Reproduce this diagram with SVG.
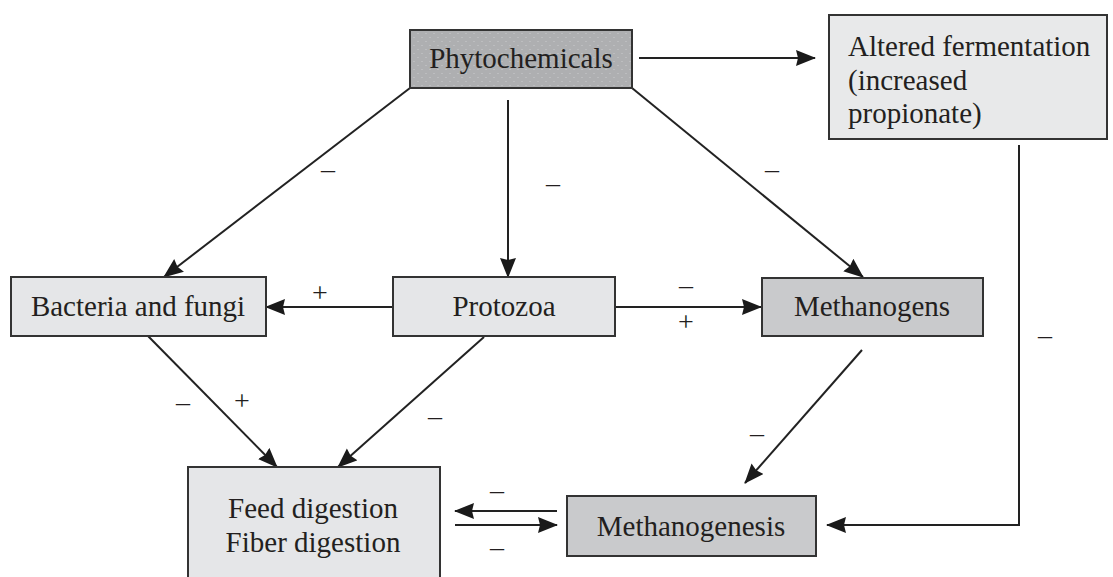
<svg xmlns="http://www.w3.org/2000/svg" width="1113" height="577" viewBox="0 0 1113 577">
<style>
.box{stroke:#333;stroke-width:2}
.light{fill:#e5e6e8}
.mid{fill:#c9cacc}
.t{font-family:"Liberation Serif","Times New Roman",serif;font-size:29px;fill:#231f20}
.s{font-family:"Liberation Serif","Times New Roman",serif;font-size:28px;fill:#231f20;text-anchor:middle}
.c{stroke:#222;stroke-width:2;fill:none}
</style>
<defs>
<marker id="ah" markerUnits="userSpaceOnUse" markerWidth="22" markerHeight="18" refX="19" refY="8" orient="auto">
<path d="M0,0 L20,8 L0,16 L2,8 Z" fill="#1a1a1a"/>
</marker>
<pattern id="dots" width="8" height="8" patternUnits="userSpaceOnUse">
<rect width="8" height="8" fill="#aeafb1"/>
<rect x="1" y="1" width="2" height="1" fill="#bcbdbf"/>
<rect x="5" y="5" width="2" height="1" fill="#bcbdbf"/>
</pattern>
</defs>
<g id="connectors">
<line class="c" x1="639" y1="58" x2="815" y2="58" marker-end="url(#ah)"/>
<line class="c" x1="410" y1="88" x2="164" y2="277" marker-end="url(#ah)"/>
<line class="c" x1="508" y1="100" x2="508" y2="277" marker-end="url(#ah)"/>
<line class="c" x1="632" y1="88" x2="863" y2="277" marker-end="url(#ah)"/>
<line class="c" x1="393" y1="307" x2="266" y2="307" marker-end="url(#ah)"/>
<line class="c" x1="615" y1="307" x2="761" y2="307" marker-end="url(#ah)"/>
<line class="c" x1="148" y1="336" x2="277" y2="467" marker-end="url(#ah)"/>
<line class="c" x1="484" y1="337" x2="338" y2="467" marker-end="url(#ah)"/>
<line class="c" x1="862" y1="350" x2="745" y2="483" marker-end="url(#ah)"/>
<polyline class="c" points="1019,145 1019,525 827,525" marker-end="url(#ah)"/>
<line class="c" x1="557" y1="511" x2="455" y2="511" marker-end="url(#ah)"/>
<line class="c" x1="455" y1="525" x2="557" y2="525" marker-end="url(#ah)"/>
<text class="s" x="328" y="178">–</text>
<text class="s" x="553" y="192">–</text>
<text class="s" x="772" y="178">–</text>
<text class="s" x="320" y="302">+</text>
<text class="s" x="686" y="294">–</text>
<text class="s" x="686" y="331">+</text>
<text class="s" x="183" y="411">–</text>
<text class="s" x="242" y="410">+</text>
<text class="s" x="435" y="425">–</text>
<text class="s" x="757" y="442">–</text>
<text class="s" x="1045" y="344">–</text>
<text class="s" x="497" y="499">–</text>
<text class="s" x="497" y="556">–</text>
</g>
<g id="phytochemicals">
<rect class="box" x="410" y="30" width="222" height="58" fill="url(#dots)"/>
<text class="t" x="521" y="68" text-anchor="middle">Phytochemicals</text>
</g>
<g id="altered">
<rect class="box" x="829" y="15" width="278" height="124" fill="#e8e9ea"/>
<text class="t" x="848" y="56">Altered fermentation</text>
<text class="t" x="848" y="90">(increased</text>
<text class="t" x="848" y="123">propionate)</text>
</g>
<g id="bacteria">
<rect class="box light" x="11" y="277" width="255" height="59"/>
<text class="t" x="138" y="316" text-anchor="middle">Bacteria and fungi</text>
</g>
<g id="protozoa">
<rect class="box light" x="393" y="277" width="222" height="59"/>
<text class="t" x="504" y="316" text-anchor="middle">Protozoa</text>
</g>
<g id="methanogens">
<rect class="box mid" x="762" y="278" width="221" height="58"/>
<text class="t" x="872" y="316" text-anchor="middle">Methanogens</text>
</g>
<g id="feed">
<rect class="box light" x="188" y="467" width="252" height="130"/>
<text class="t" x="313" y="518" text-anchor="middle">Feed digestion</text>
<text class="t" x="313" y="552" text-anchor="middle">Fiber digestion</text>
</g>
<g id="methanogenesis">
<rect class="box mid" x="567" y="496" width="249" height="60"/>
<text class="t" x="691" y="536" text-anchor="middle">Methanogenesis</text>
</g>
</svg>
